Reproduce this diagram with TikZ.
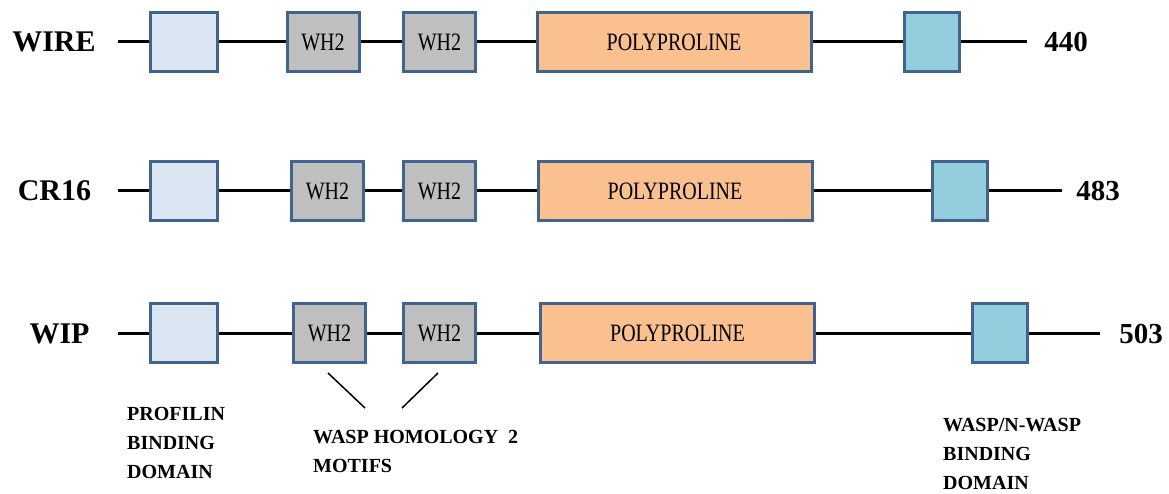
\documentclass[tikz,border=0pt]{standalone}
\usepackage{fontspec}
\setmainfont{Liberation Serif}
\newfontfamily\boxfont[FakeStretch=0.8]{Liberation Serif}
\usetikzlibrary{backgrounds}

\definecolor{edgeblue}{HTML}{41648F}
\definecolor{proffill}{HTML}{DCE6F2}
\definecolor{whfill}{HTML}{BFBFBF}
\definecolor{polyfill}{HTML}{FAC090}
\definecolor{waspfill}{HTML}{93CDDD}

\tikzset{
  dombox/.style={draw=edgeblue, line width=3pt, inner sep=0pt, minimum height=59pt,
    font=\boxfont\fontsize{25}{25}\selectfont},
  profbox/.style={dombox, fill=proffill, minimum width=67pt},
  whbox/.style={dombox, fill=whfill, minimum width=72pt},
  polybox/.style={dombox, fill=polyfill, minimum width=274pt},
  waspbox/.style={dombox, fill=waspfill, minimum width=55pt},
  protein/.style={font=\bfseries\fontsize{30}{30}\selectfont, anchor=base, inner sep=0pt},
  sizelabel/.style={font=\bfseries\fontsize{29}{29}\selectfont, anchor=base, inner sep=0pt},
  note/.style={font=\bfseries\fontsize{20}{29}\selectfont, align=left, anchor=north west, inner sep=0pt},
  backbone/.style={line width=3pt, black},
}

\begin{document}
\begin{tikzpicture}[x=1pt,y=-1pt]
\useasboundingbox (0,0) rectangle (1169,494);

% WIRE
\node[protein] (wireName) at (54,52) {WIRE};
\coordinate (wireStart) at (118,42);
\node[profbox] (wireProf) at (184,42) {};
\node[whbox] (wireWHa) at (323,42) {WH2};
\node[whbox] (wireWHb) at (439.5,42) {WH2};
\node[polybox] (wirePoly) at (674,42) {POLYPROLINE};
\node[waspbox] (wireWasp) at (931.5,42) {};
\coordinate (wireEnd) at (1027,42);
\node[sizelabel] (wireLen) at (1066,52) {440};

% CR16
\node[protein] (crName) at (54.5,201) {CR16};
\coordinate (crStart) at (118,191);
\node[profbox] (crProf) at (184,191) {};
\node[whbox] (crWHa) at (327.5,191) {WH2};
\node[whbox] (crWHb) at (439.5,191) {WH2};
\node[polybox] (crPoly) at (675,191) {POLYPROLINE};
\node[waspbox] (crWasp) at (960,191) {};
\coordinate (crEnd) at (1062,191);
\node[sizelabel] (crLen) at (1098,201) {483};

% WIP
\node[protein] (wipName) at (59.5,343) {WIP};
\coordinate (wipStart) at (118,333);
\node[profbox] (wipProf) at (184,333) {};
\node[whbox] (wipWHa) at (329.5,333) {WH2};
\node[whbox] (wipWHb) at (439.5,333) {WH2};
\node[polybox] (wipPoly) at (677.5,333) {POLYPROLINE};
\node[waspbox] (wipWasp) at (1000,333) {};
\coordinate (wipEnd) at (1100,333);
\node[sizelabel] (wipLen) at (1141,343) {503};

\begin{pgfonlayer}{background}
\draw[backbone] (wireStart) -- (wireProf) -- (wireWHa) -- (wireWHb) -- (wirePoly) -- (wireWasp) -- (wireEnd);
\draw[backbone] (crStart) -- (crProf) -- (crWHa) -- (crWHb) -- (crPoly) -- (crWasp) -- (crEnd);
\draw[backbone] (wipStart) -- (wipProf) -- (wipWHa) -- (wipWHb) -- (wipPoly) -- (wipWasp) -- (wipEnd);
\end{pgfonlayer}

% annotations
\node[note] (profNote) at (127,407) {PROFILIN\\BINDING\\DOMAIN};
\node[note] (whNote) at (313,430) {WASP HOMOLOGY\ \ 2\\MOTIFS};
\node[note] (waspNote) at (943,418) {WASP/N-WASP\\BINDING\\DOMAIN};
\coordinate (tickAtop) at (328,373);
\coordinate (tickAend) at (365,408);
\coordinate (tickBtop) at (438,373);
\coordinate (tickBend) at (402,408);
\draw[line width=1.5pt] (tickAtop) -- (tickAend);
\draw[line width=1.5pt] (tickBtop) -- (tickBend);
\end{tikzpicture}
\end{document}
